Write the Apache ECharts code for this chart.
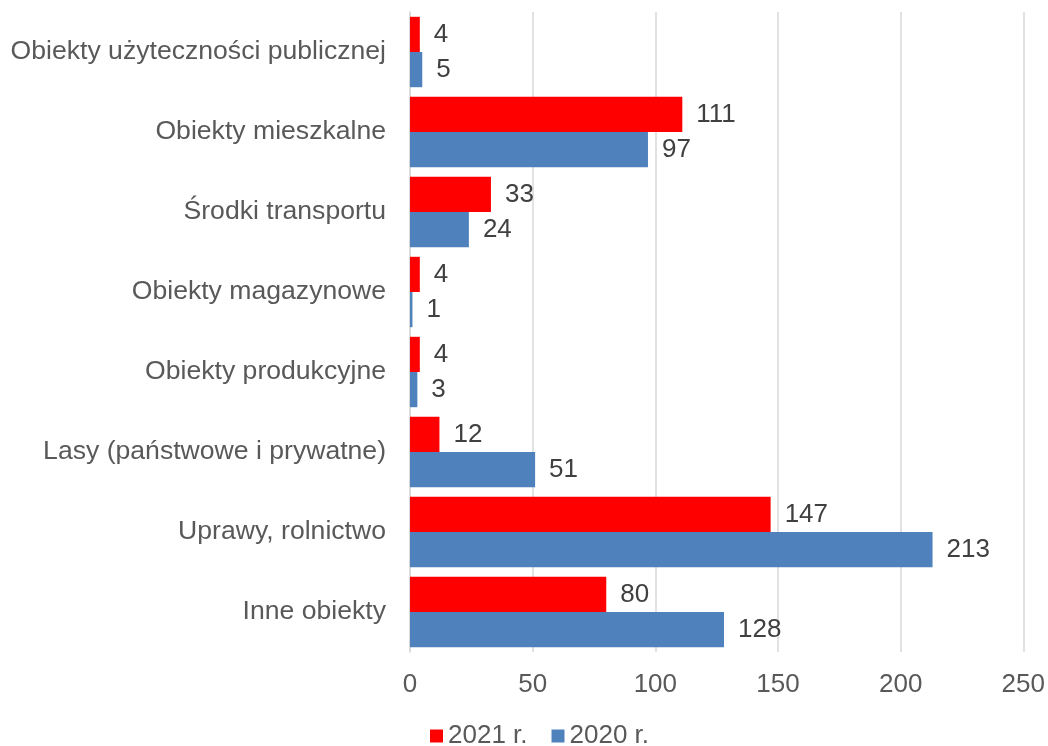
<!DOCTYPE html>
<html>
<head>
<meta charset="utf-8">
<script src="https://cdn.jsdelivr.net/npm/echarts@6/dist/echarts.min.js"></script>
<style>html,body{margin:0;padding:0;background:#fff;}#c{width:1048px;height:746px;}</style>
</head>
<body>
<div id="c"></div>
<script>
const categories = ["Obiekty użyteczności publicznej","Obiekty mieszkalne","Środki transportu","Obiekty magazynowe","Obiekty produkcyjne","Lasy (państwowe i prywatne)","Uprawy, rolnictwo","Inne obiekty"];
const values2021 = [4,111,33,4,4,12,147,80];
const values2020 = [5,97,24,1,3,51,213,128];
const xTicks = [0,50,100,150,200,250];

const font = 'Liberation Sans, Arial, sans-serif';
const chart = echarts.init(document.getElementById('c'));
chart.setOption({
  animation: false,
  textStyle: {fontFamily: font},
  grid: {left: 410, right: 23, top: 12, bottom: 94},
  legend: {
    top: 718, left: 425, itemWidth: 13, itemHeight: 13, itemGap: 24,
    textStyle: {fontSize: 26, color: '#595959', fontFamily: font},
    data: ['2021 r.', '2020 r.'], icon: 'rect'
  },
  xAxis: {
    type: 'value', min: xTicks[0], max: xTicks[xTicks.length-1], interval: 50,
    axisLine: {show: false}, axisTick: {show: false},
    splitLine: {lineStyle: {color: '#d9d9d9', width: 1.5}},
    axisLabel: {fontSize: 26, color: '#595959', margin: 20}
  },
  yAxis: {
    type: 'category', data: categories, inverse: true,
    axisLine: {lineStyle: {color: '#d9d9d9', width: 1.5}}, axisTick: {show: false},
    axisLabel: {fontSize: 26.6, color: '#595959', margin: 24}
  },
  series: [
    {name: '2021 r.', type: 'bar', data: values2021, barGap: '0%', barCategoryGap: '12%',
     itemStyle: {color: '#ff0000'},
     label: {show: true, position: 'right', distance: 14, fontSize: 26, color: '#404040'}},
    {name: '2020 r.', type: 'bar', data: values2020, barGap: '0%', barCategoryGap: '12%',
     itemStyle: {color: '#4f81bd'},
     label: {show: true, position: 'right', distance: 14, fontSize: 26, color: '#404040'}}
  ]
});
</script>
</body>
</html>
